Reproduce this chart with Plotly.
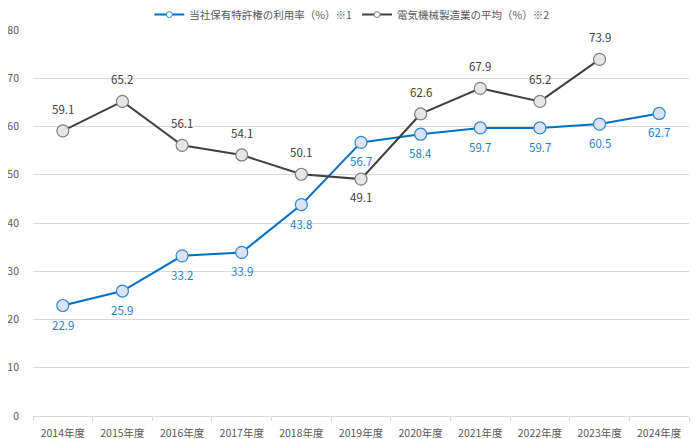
import plotly.graph_objects as go

categories = ["2014年度", "2015年度", "2016年度", "2017年度", "2018年度", "2019年度",
              "2020年度", "2021年度", "2022年度", "2023年度", "2024年度"]
company_values = [22.9, 25.9, 33.2, 33.9, 43.8, 56.7, 58.4, 59.7, 59.7, 60.5, 62.7]
industry_values = [59.1, 65.2, 56.1, 54.1, 50.1, 49.1, 62.6, 67.9, 65.2, 73.9]
company_name = "当社保有特許権の利用率（%）※1"
industry_name = "電気機械製造業の平均（%）※2"
y_ticks = [0, 10, 20, 30, 40, 50, 60, 70, 80]

FONT = "Noto Sans CJK JP"
BLUE_TXT = "#1f7fcf"
DARK_TXT = "#404040"

series = [
    (company_name, categories, company_values, "#0070c0", "#dae3f3", "#2e86d6"),
    (industry_name, categories[:len(industry_values)], industry_values, "#404040", "#e7e6e6", "#7f7f7f"),
]

fig = go.Figure()
for name, xs, ys, lc, fc, mc in series:
    fig.add_trace(go.Scatter(
        x=xs, y=ys, name=name, showlegend=False,
        mode="lines+markers",
        line=dict(color=lc, width=2),
        marker=dict(size=12, color=fc, line=dict(color=mc, width=1.2)),
        cliponaxis=False,
    ))
for name, xs, ys, lc, fc, mc in series:
    # legend entry with small marker, as in the reference
    fig.add_trace(go.Scatter(
        x=[None], y=[None], name=name, showlegend=True,
        mode="lines+markers",
        line=dict(color=lc, width=2),
        marker=dict(size=6, color="white", line=dict(color=mc, width=1)),
    ))

annotations = []
for c, v in zip(categories, company_values):
    annotations.append(dict(x=c, y=v, text=f"{v:.1f}", showarrow=False,
                            yshift=-19, font=dict(color=BLUE_TXT, size=11.5, family=FONT)))
for i, (c, v) in enumerate(zip(categories, industry_values)):
    shift = -18 if i == 5 else 22
    annotations.append(dict(x=c, y=v, text=f"{v:.1f}", showarrow=False,
                            yshift=shift, font=dict(color=DARK_TXT, size=11.5, family=FONT)))

fig.update_layout(
    width=700, height=439,
    margin=dict(l=25, r=19, t=22, b=31, autoexpand=False),
    paper_bgcolor="white", plot_bgcolor="white",
    font=dict(family=FONT, size=10, color="#595959"),
    showlegend=True,
    annotations=annotations,
    legend=dict(orientation="h", x=0.486, xanchor="center", y=1.04, yanchor="middle",
                font=dict(size=10.5, color="#595959"), itemwidth=30,
                traceorder="normal", tracegroupgap=0, bgcolor="rgba(0,0,0,0)"),
    xaxis=dict(
        type="category", range=[-0.5, len(categories) - 0.5],
        showgrid=False, showline=True, linecolor="#d9d9d9",
        ticks="outside", tickson="boundaries", ticklen=4, tickcolor="#d9d9d9",
        tickfont=dict(size=10.5, color="#595959"), fixedrange=True, automargin=False,
        ticklabelstandoff=7,
    ),
    yaxis=dict(
        range=[0, 80], tickvals=y_ticks, showgrid=True, gridcolor="#d9d9d9",
        gridwidth=1, zeroline=False, showline=False, automargin=False,
        tickfont=dict(size=10.5, color="#595959"), ticklabelstandoff=13,
    ),
)
fig.write_html("out.html")
